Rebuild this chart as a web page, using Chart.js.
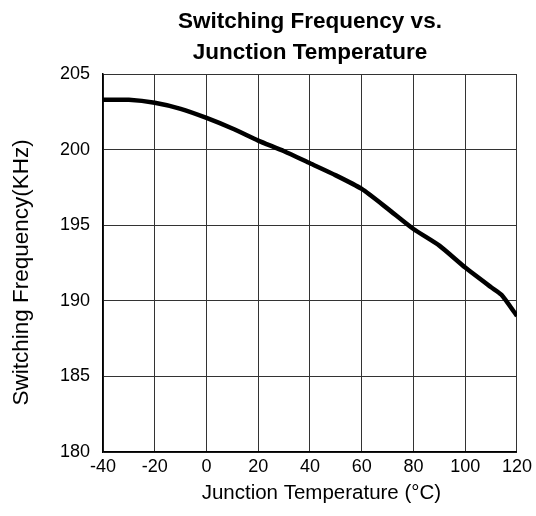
<!DOCTYPE html>
<html>
<head>
<meta charset="utf-8">
<script src="https://cdn.jsdelivr.net/npm/chart.js@4"></script>
<style>
  html, body { margin: 0; padding: 0; background: #fff; }
  #wrap { width: 536px; height: 516px; }
</style>
</head>
<body>
<div id="wrap"><canvas id="freqChart" width="536" height="516"></canvas></div>
<script>
// temperature (°C) and switching frequency (kHz)
const temps = [-40, -30, -20, -10, 0, 10, 20, 30, 40, 50, 60, 70, 80, 90, 100, 110, 114, 120];
const freqs = [203.3, 203.3, 203.1, 202.7, 202.1, 201.4, 200.6, 199.9, 199.1, 198.3, 197.4, 196.1, 194.75, 193.65, 192.2, 190.9, 190.4, 189.0];
const xTicks = [-40, -20, 0, 20, 40, 60, 80, 100, 120];
const yTicks = [180, 185, 190, 195, 200, 205];

const font = 'Liberation Sans, Arial, sans-serif';
Chart.defaults.font.family = font;
Chart.defaults.color = '#000';

// the axis titles sit a little off-centre in the original, nudge them with spaces
const nb = '\u00A0';

new Chart('freqChart', {
    type: 'line',
    data: {
        datasets: [{
            data: temps.map((t, i) => ({ x: t, y: freqs[i] })),
            borderColor: '#000',
            borderWidth: 4.5,
            pointRadius: 0,
            tension: 0.2,
            fill: false
        }]
    },
    options: {
        responsive: false,
        animation: false,
        layout: { padding: { left: 0, right: 2, top: 6, bottom: 0 } },
        plugins: {
            legend: { display: false },
            tooltip: { enabled: false },
            title: {
                display: true,
                fullSize: false,
                text: ['Switching Frequency vs.', 'Junction Temperature'],
                font: { size: 22.5, weight: 'bold', family: font, lineHeight: 1.38 },
                padding: { top: 0, bottom: 6 },
                color: '#000'
            }
        },
        scales: {
            x: {
                type: 'linear',
                min: -40,
                max: 120,
                afterBuildTicks: (s) => { s.ticks = xTicks.map(v => ({ value: v })); },
                afterFit: (s) => { s.height = 64; },
                grid: { color: '#333', lineWidth: 1, drawTicks: false },
                border: { color: '#000', width: 1.5 },
                ticks: { font: { size: 18 }, padding: 4, maxRotation: 0 },
                title: { display: true, text: nb.repeat(4) + 'Junction Temperature (°C)', font: { size: 20.5 }, padding: { top: 0, bottom: 10 } }
            },
            y: {
                min: 180,
                max: 205,
                afterBuildTicks: (s) => { s.ticks = yTicks.map(v => ({ value: v })); },
                afterFit: (s) => { s.width = 103; },
                grid: { color: '#333', lineWidth: 1, drawTicks: false },
                border: { color: '#000', width: 1.5 },
                ticks: { font: { size: 18 }, padding: 13 },
                title: { display: true, text: 'Switching Frequency(KHz)' + nb.repeat(3), font: { size: 22.5 }, padding: { top: 8, bottom: 0 } }
            }
        }
    }
});
</script>
</body>
</html>
